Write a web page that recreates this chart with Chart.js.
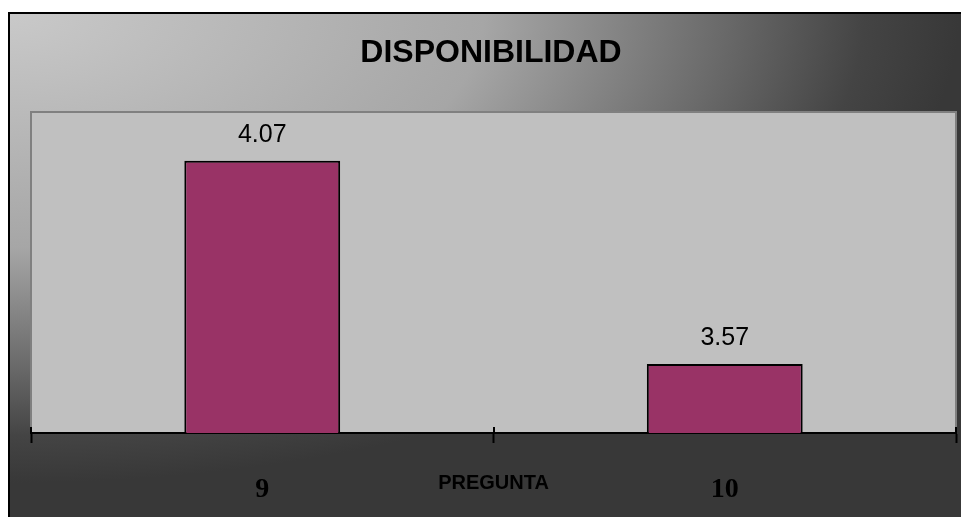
<!DOCTYPE html>
<html>
<head>
<meta charset="utf-8">
<script src="https://cdn.jsdelivr.net/npm/chart.js@4"></script>
<style>
  html, body { margin: 0; padding: 0; background: #fff; }
  canvas { display: block; }
</style>
</head>
<body>
<canvas id="chart" width="961" height="517"></canvas>
<script>
const preguntas = ['9', '10'];
const promedios = [4.07, 3.57];

const COLORS = {
  bar: '#993366',
  plot: '#c0c0c0',
  plotBorder: '#808080',
  text: '#000000',
};

// backdrop: white page, dark corner gradient panel, grey plot box
const backdrop = {
  id: 'backdrop',
  beforeDraw(chart) {
    const { ctx, width, height, chartArea } = chart;
    ctx.save();
    ctx.fillStyle = '#ffffff';
    ctx.fillRect(0, 0, width, height);

    const ox = 9, oy = 13;
    ctx.save();
    ctx.translate(ox, oy);
    ctx.scale(1, 470 / 950);
    const g = ctx.createRadialGradient(0, 0, 0, 0, 0, 950);
    g.addColorStop(0, '#c9c9c9');
    g.addColorStop(0.5, '#a6a6a6');
    g.addColorStop(0.75, '#6a6a6a');
    g.addColorStop(0.9, '#444444');
    g.addColorStop(1, '#383838');
    ctx.fillStyle = g;
    ctx.fillRect(0, 0, width, height * 950 / 470);
    ctx.restore();

    ctx.strokeStyle = '#000';
    ctx.lineWidth = 2;
    ctx.beginPath();
    ctx.moveTo(ox, height + 2);
    ctx.lineTo(ox, oy);
    ctx.lineTo(width + 2, oy);
    ctx.stroke();

    const { left, top, right, bottom } = chartArea;
    ctx.fillStyle = COLORS.plot;
    ctx.fillRect(left, top, right - left, bottom - top);
    ctx.strokeStyle = COLORS.plotBorder;
    ctx.lineWidth = 2;
    ctx.beginPath();
    ctx.moveTo(left, bottom);
    ctx.lineTo(left, top);
    ctx.lineTo(right, top);
    ctx.lineTo(right, bottom);
    ctx.stroke();
    ctx.restore();
  },
  afterDraw(chart) {
    const { ctx, chartArea } = chart;
    const x = chart.scales.x;
    ctx.save();

    // tick marks poke a little above the axis line too
    ctx.strokeStyle = '#000';
    ctx.lineWidth = 2;
    for (let i = 0; i <= preguntas.length; i++) {
      const px = Math.round(x.getPixelForValue(i - 0.5));
      ctx.beginPath();
      ctx.moveTo(px, chartArea.bottom - 6);
      ctx.lineTo(px, chartArea.bottom);
      ctx.stroke();
    }

    // value labels above bars
    ctx.fillStyle = COLORS.text;
    ctx.font = '25px "Liberation Sans", Arial, sans-serif';
    ctx.textAlign = 'center';
    ctx.textBaseline = 'alphabetic';
    chart.getDatasetMeta(0).data.forEach((bar, i) => {
      ctx.fillText(promedios[i].toFixed(2), bar.x, bar.y - 19);
    });

    // title
    ctx.font = 'bold 32px "Liberation Sans", Arial, sans-serif';
    ctx.fillText('DISPONIBILIDAD', 491, 62);

    // axis title sits between the category labels
    ctx.font = 'bold 20px "Liberation Sans", Arial, sans-serif';
    ctx.fillText('PREGUNTA', (chartArea.left + chartArea.right) / 2, 489);
    ctx.restore();
  },
};

new Chart(document.getElementById('chart'), {
  type: 'bar',
  data: {
    labels: preguntas,
    datasets: [{
      data: promedios,
      backgroundColor: COLORS.bar,
      borderColor: '#000',
      borderWidth: 2,
      borderSkipped: 'bottom',
      categoryPercentage: 1,
      barPercentage: 0.337,
    }],
  },
  options: {
    responsive: false,
    animation: false,
    devicePixelRatio: 1,
    layout: { padding: { left: 31, right: 5, top: 112, bottom: 0 } },
    plugins: {
      legend: { display: false },
      tooltip: { enabled: false },
    },
    scales: {
      x: {
        offset: true,
        grid: {
          offset: true,
          drawOnChartArea: false,
          drawTicks: true,
          tickLength: 10,
          tickColor: '#000',
          tickWidth: 2,
        },
        border: { display: true, color: '#000', width: 2 },
        ticks: {
          color: COLORS.text,
          padding: 30,
          font: { family: '"Liberation Serif", "Times New Roman", serif', size: 28, weight: 'bold' },
        },
        afterFit(scale) { scale.height = 84; },
      },
      y: {
        display: false,
        min: 3.4,
        max: 4.19,
      },
    },
  },
  plugins: [backdrop],
});
</script>
</body>
</html>
